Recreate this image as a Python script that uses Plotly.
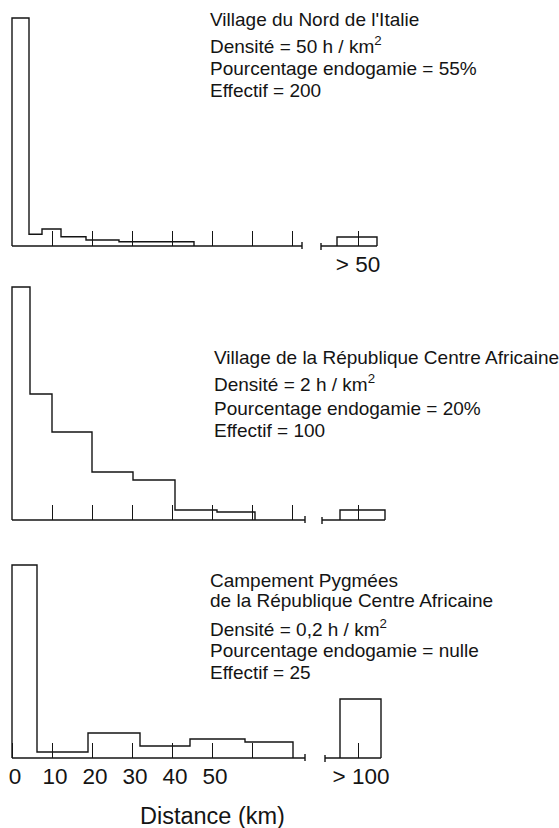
import plotly.graph_objects as go

# ---------------- data (distances in km, heights in relative units) ----------------
# Village du Nord de l'Italie
italie_edges = [0, 4.25, 7.5, 12.25, 18.5, 26.75, 45.5]
italie_heights = [228, 11.7, 17, 9.3, 6, 4.3]
italie_over_edges = [81.25, 91.25]
italie_over_height = 9

# Village de la République Centre Africaine
rca_edges = [0, 4.5, 10, 20, 30.25, 40.75, 51.25, 60.75]
rca_heights = [233, 126, 88, 48, 40, 10, 8]
rca_over_edges = [82, 93.25]
rca_over_height = 10

# Campement Pygmées
pyg_edges = [0, 6.25, 19, 32, 44.5, 58.25, 70.25]
pyg_heights = [193, 6, 25, 12, 19, 16]
pyg_over_edges = [82, 92.25]
pyg_over_height = 59

# axis break (end of main scale / start of "over" slot), in km-positions
break_end = [72.5, 73.25, 73.25]
break_start = [77.25, 77.5, 78.25]

tick_km = [[10, 20, 30, 40, 50, 60, 70], [10, 20, 30, 40, 50, 60, 70], [10, 20, 30, 40, 50, 60]]
over_tick = 86.5
bottom_tick_vals = [0, 10, 20, 30, 40, 50]
bottom_tick_text = ["0", "10", "20", "30", "40", "50"]
over_labels = ["> 50", "", "> 100"]

texts = [
    ["Village du Nord de l'Italie", "Densité = 50 h / km<sup>2</sup>",
     "Pourcentage endogamie = 55%", "Effectif = 200"],
    ["Village de la République Centre Africaine", "Densité = 2 h / km<sup>2</sup>",
     "Pourcentage endogamie = 20%", "Effectif = 100"],
    ["Campement Pygmées", "de la République Centre Africaine",
     "Densité = 0,2 h / km<sup>2</sup>", "Pourcentage endogamie = nulle", "Effectif = 25"],
]
xlabel = "Distance (km)"

# ---------------- layout geometry (pixels) ----------------
W, H = 559, 828
X0_PX, PX_PER_KM = 12, 4.0
xrange = [-X0_PX / PX_PER_KM, (W - X0_PX) / PX_PER_KM]
baselines = [246, 520, 758]
tops = [232, 238, 200]
text_x = [208, 212, 208]
text_y = [[19.5, 44.5, 68, 90], [358, 383, 408, 430], [580, 600, 628, 650, 672]]

INK = "#141414"
LW = 1.4
FONT = "Liberation Sans, Arial, Helvetica, sans-serif"

panels = [
    (italie_edges, italie_heights, italie_over_edges, italie_over_height),
    (rca_edges, rca_heights, rca_over_edges, rca_over_height),
    (pyg_edges, pyg_heights, pyg_over_edges, pyg_over_height),
]

fig = go.Figure()
layout = dict(
    width=W, height=H, margin=dict(l=0, r=0, t=0, b=0),
    paper_bgcolor="white", plot_bgcolor="rgba(0,0,0,0)",
    showlegend=False, font=dict(family=FONT, color=INK),
)

annotations = []
for i, (edges, heights, oedges, oh) in enumerate(panels):
    n = i + 1
    xa, ya = ("x" if n == 1 else f"x{n}"), ("y" if n == 1 else f"y{n}")
    line = dict(color=INK, width=LW)
    # step outline of histogram
    xs = [edges[0], edges[0]] + edges[1:]
    ys = [0] + list(heights) + [0]
    fig.add_trace(go.Scatter(x=xs, y=ys, mode="lines", line_shape="hv", line=line,
                             xaxis=xa, yaxis=ya, hoverinfo="skip"))
    # baseline (broken) + caps
    bx = [edges[0], break_end[i], None, break_start[i], oedges[1], None,
          break_end[i], break_end[i], None, break_start[i], break_start[i]]
    by = [0, 0, None, 0, 0, None, -3, 4, None, -4, 3]
    fig.add_trace(go.Scatter(x=bx, y=by, mode="lines", line=line,
                             xaxis=xa, yaxis=ya, hoverinfo="skip"))
    # "over" box
    fig.add_trace(go.Scatter(x=[oedges[0], oedges[0], oedges[1], oedges[1]],
                             y=[0, oh, oh, 0], mode="lines", line=line,
                             xaxis=xa, yaxis=ya, hoverinfo="skip"))

    if n == 3:
        major_v = bottom_tick_vals + [over_tick]
        major_t = bottom_tick_text + [over_labels[i]]
        minor_v = [t for t in tick_km[i] if t not in bottom_tick_vals]
    elif over_labels[i]:
        major_v, major_t = [over_tick], [over_labels[i]]
        minor_v = list(tick_km[i])
    else:
        major_v, major_t = [], []
        minor_v = list(tick_km[i]) + [over_tick]
    b = baselines[i]
    layout["xaxis" if n == 1 else f"xaxis{n}"] = dict(
        anchor="free", position=1 - b / H, domain=[0, 1], range=xrange,
        showgrid=False, zeroline=False, showline=False,
        ticks="inside", ticklen=15, tickwidth=1.3, tickcolor=INK,
        tickvals=major_v, ticktext=major_t,
        showticklabels=bool(major_t),
        tickfont=dict(size=22.5, color=INK, family=FONT),
        ticklabelshift=3 if n == 3 else 0, ticklabelstandoff=2,
        minor=dict(tickvals=minor_v, ticks="inside", ticklen=15, tickwidth=1.3,
                   tickcolor=INK, showgrid=False),
    )
    layout["yaxis" if n == 1 else f"yaxis{n}"] = dict(
        anchor=xa, domain=[1 - (b + 10) / H, 1 - (b - tops[i]) / H],
        range=[-10, tops[i]], visible=False,
    )
    for t, ty in zip(texts[i], text_y[i]):
        annotations.append(dict(
            text=t, x=text_x[i] / W, y=1 - ty / H, xref="paper", yref="paper",
            xanchor="left", yanchor="middle", showarrow=False,
            font=dict(size=19, family=FONT, color=INK),
        ))

annotations.append(dict(text=xlabel, x=212 / W, y=1 - 816 / H, xref="paper", yref="paper",
                        xanchor="center", yanchor="middle", showarrow=False,
                        font=dict(size=23.5, family=FONT, color=INK)))
layout["annotations"] = annotations
fig.update_layout(**layout)
fig.write_html("out.html", config={"displayModeBar": False},
               post_script="document.body.style.margin='0';document.body.style.overflow='hidden';")
